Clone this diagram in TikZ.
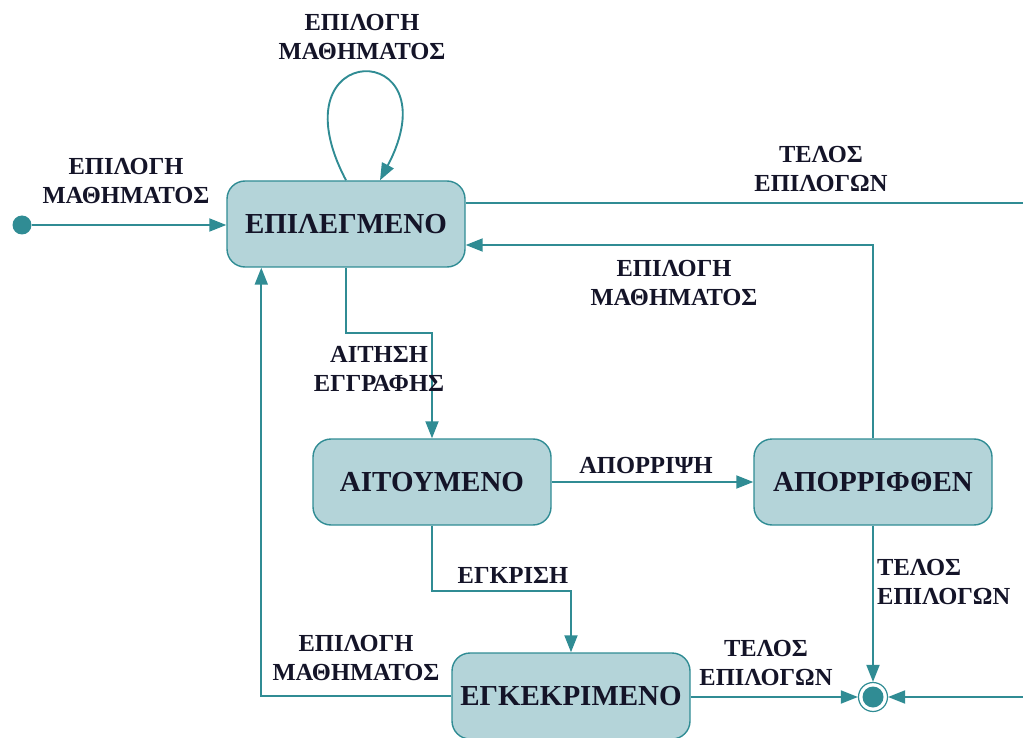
\documentclass[tikz,border=0pt]{standalone}
\usepackage{fontspec}
\setmainfont{Liberation Serif}
\usetikzlibrary{arrows.meta}
\definecolor{flow}{RGB}{48,140,148}
\definecolor{statefill}{RGB}{180,212,217}
\definecolor{ink}{RGB}{20,20,40}
\begin{document}
\begin{tikzpicture}[x=1pt,y=-1pt,
  state/.style={draw=flow,line width=1.4pt,fill=statefill,rounded corners=18pt,
    minimum width=238pt,minimum height=86pt,inner sep=0pt,text=ink,
    font=\fontsize{29}{32}\selectfont\bfseries},
  lbl/.style={align=center,text=ink,inner sep=0pt,
    font=\fontsize{24.5}{29.5}\selectfont\bfseries},
  arr/.style={draw=flow,line width=1.9pt,-{Triangle[length=17pt,width=13pt]}},
  line/.style={draw=flow,line width=1.9pt}]
\useasboundingbox (0,0) rectangle (1023,738);

% states
\node[state] (S1) at (346,224) {ΕΠΙΛΕΓΜΕΝΟ};
\node[state] (S2) at (432,482) {ΑΙΤΟΥΜΕΝΟ};
\node[state] (S3) at (873,482) {ΑΠΟΡΡΙΦΘΕΝ};
\node[state] (S4) at (571,696) {ΕΓΚΕΚΡΙΜΕΝΟ};

% initial and final pseudo-states
\node[circle,fill=flow,minimum size=19pt,inner sep=0pt] (init) at (22,225) {};
\node[circle,draw=flow,line width=1.2pt,minimum size=29pt,inner sep=0pt] (fin) at (873,697) {};
\node[circle,fill=flow,minimum size=21pt,inner sep=0pt] (finc) at (873,697) {};

% free ends at the right border
\coordinate (rightA) at (1023,203);
\coordinate (rightB) at (1023,697);

% transitions
\draw[arr] (init) -- (S1.west |- init);
\draw[arr] (S1.north) .. controls +(-75,-143) and +(75,-143) .. ([xshift=34pt]S1.north);
\draw[line] (S1.east |- rightA) -- (rightA);
\draw[arr] (S3.north) |- (S1.east |- 0,245);
\draw[arr] (S1.south) -- ++(0,65) -| (S2.north);
\draw[arr] (S2.east) -- (S3.west);
\draw[arr] (S2.south) -- ++(0,65) -| (S4.north);
\draw[arr] (S4.west) -| ([xshift=35pt]S1.south west);
\draw[arr] (S4.east |- fin) -- (fin.west);
\draw[arr] (S3.south) -- (fin.north);
\draw[arr] (rightB) -- (fin.east);

% labels
\node[lbl] (Linit) at (126,181) {ΕΠΙΛΟΓΗ\\ΜΑΘΗΜΑΤΟΣ};
\node[lbl] (Lloop) at (362,37) {ΕΠΙΛΟΓΗ\\ΜΑΘΗΜΑΤΟΣ};
\node[lbl] (Lend1) at (821,169) {ΤΕΛΟΣ\\ΕΠΙΛΟΓΩΝ};
\node[lbl] (Lback) at (674,283) {ΕΠΙΛΟΓΗ\\ΜΑΘΗΜΑΤΟΣ};
\node[lbl] (Lreq) at (379,369) {ΑΙΤΗΣΗ\\ΕΓΓΡΑΦΗΣ};
\node[lbl] (Lrej) at (646,466) {ΑΠΟΡΡΙΨΗ};
\node[lbl] (Lapp) at (513,575) {ΕΓΚΡΙΣΗ};
\node[lbl] (Lback2) at (356,658) {ΕΠΙΛΟΓΗ\\ΜΑΘΗΜΑΤΟΣ};
\node[lbl] (Lend2) at (766,663) {ΤΕΛΟΣ\\ΕΠΙΛΟΓΩΝ};
\node[lbl,align=left,anchor=west] (Lend3) at (877,582) {ΤΕΛΟΣ\\ΕΠΙΛΟΓΩΝ};
\end{tikzpicture}
\end{document}
